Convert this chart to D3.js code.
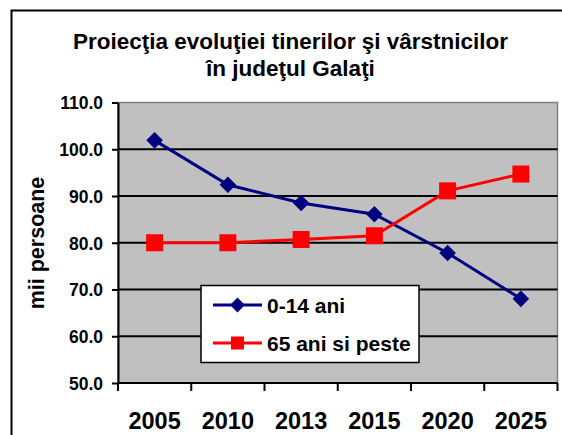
<!DOCTYPE html>
<html>
<head>
<meta charset="utf-8">
<script src="https://cdn.jsdelivr.net/npm/d3@7"></script>
<style>
    body { margin: 0; background: #fff; }
    svg { display: block; font-family: Arial, "Liberation Sans", sans-serif; font-weight: bold; }
</style>
</head>
<body>
<script>
// data
const years = ["2005", "2010", "2013", "2015", "2020", "2025"];
const tineri = [101.9, 92.4, 88.5, 86.1, 77.8, 68.0];
const varstnici = [80.0, 80.0, 80.7, 81.5, 91.1, 94.7];
const yTicks = [50, 60, 70, 80, 90, 100, 110];
const seriesNames = ["0-14 ani", "65 ani si peste"];

function init() {
    var w = 562;
    var h = 435;

    var svg = d3.select("body")
        .append("svg")
        .attr("width", w)
        .attr("height", h);

    // outer chart frame
    svg.append("rect")
        .attr("x", 11.5)
        .attr("y", 10.5)
        .attr("width", 580)
        .attr("height", 460)
        .attr("fill", "none")
        .attr("stroke", "#000")
        .attr("stroke-width", 2);

    var xScale = d3.scaleBand()
        .domain(years)
        .range([118, 557.5])
        .padding(0);

    var yScale = d3.scaleLinear()
        .domain([50, 110])
        .range([383, 102.5]);

    // plot area
    svg.append("rect")
        .attr("x", 118)
        .attr("y", yScale(110))
        .attr("width", 557.5 - 118)
        .attr("height", yScale(50) - yScale(110))
        .attr("fill", "#c0c0c0")
        .attr("stroke", "#808080")
        .attr("stroke-width", 1.5);

    // gridlines
    svg.selectAll(".grid")
        .data(yTicks.filter(function(d) { return d > 50 && d < 110; }))
        .enter()
        .append("line")
        .attr("class", "grid")
        .attr("x1", 118)
        .attr("x2", 557.5)
        .attr("y1", function(d) { return yScale(d); })
        .attr("y2", function(d) { return yScale(d); })
        .attr("stroke", "#000")
        .attr("stroke-width", 1.8);

    // y axis
    var yAxis = d3.axisLeft(yScale)
        .tickValues(yTicks)
        .tickFormat(d3.format(".1f"))
        .tickSizeInner(6)
        .tickSizeOuter(0)
        .tickPadding(9);

    var gy = svg.append("g")
        .attr("transform", "translate(118,0)")
        .call(yAxis);
    gy.select(".domain").attr("stroke", "#000").attr("stroke-width", 2);
    gy.selectAll(".tick line").attr("stroke", "#000").attr("stroke-width", 2);
    gy.selectAll("text")
        .attr("fill", "#000")
        .style("font-size", "17.5px")
        .style("font-weight", "bold")
        .style("font-family", "Arial, 'Liberation Sans', sans-serif")
        .attr("dy", "0.36em");

    // x axis: ticks between categories
    var gx = svg.append("g")
        .attr("transform", "translate(0,383)");
    gx.append("line")
        .attr("x1", 118)
        .attr("x2", 557.5)
        .attr("stroke", "#000")
        .attr("stroke-width", 2);
    var bounds = years.map(function(d) { return xScale(d); }).concat([xScale.range()[1]]);
    gx.selectAll(".xtick")
        .data(bounds)
        .enter()
        .append("line")
        .attr("class", "xtick")
        .attr("x1", function(d) { return d; })
        .attr("x2", function(d) { return d; })
        .attr("y1", 0)
        .attr("y2", 8)
        .attr("stroke", "#000")
        .attr("stroke-width", 2);
    gx.selectAll(".xlabel")
        .data(years)
        .enter()
        .append("text")
        .attr("class", "xlabel")
        .attr("x", function(d) { return xScale(d) + xScale.bandwidth() / 2; })
        .attr("y", 46)
        .attr("text-anchor", "middle")
        .style("font-size", "23.5px")
        .text(function(d) { return d; });

    // y axis title
    svg.append("text")
        .attr("transform", "translate(43.5,243) rotate(-90)")
        .attr("text-anchor", "middle")
        .style("font-size", "21.5px")
        .text("mii persoane");

    // title
    svg.append("text")
        .attr("x", 290.5)
        .attr("y", 49)
        .attr("text-anchor", "middle")
        .style("font-size", "22.5px")
        .text("Proiecţia evoluţiei tinerilor şi vârstnicilor");
    svg.append("text")
        .attr("x", 290.5)
        .attr("y", 76)
        .attr("text-anchor", "middle")
        .style("font-size", "22.5px")
        .text("în judeţul Galaţi");

    var cx = function(d, i) { return xScale(years[i]) + xScale.bandwidth() / 2; };
    var line = d3.line()
        .x(cx)
        .y(function(d) { return yScale(d); });

    var diamond = d3.symbol().type(d3.symbolDiamond2).size(175);

    // series 1: 0-14 ani
    svg.append("path")
        .datum(tineri)
        .attr("d", line)
        .attr("fill", "none")
        .attr("stroke", "#000080")
        .attr("stroke-width", 3);
    svg.selectAll(".dia")
        .data(tineri)
        .enter()
        .append("path")
        .attr("class", "dia")
        .attr("d", diamond)
        .attr("transform", function(d, i) { return "translate(" + cx(d, i) + "," + yScale(d) + ")"; })
        .attr("fill", "#000080");

    // series 2: 65 ani si peste
    svg.append("path")
        .datum(varstnici)
        .attr("d", line)
        .attr("fill", "none")
        .attr("stroke", "#ff0000")
        .attr("stroke-width", 3);
    svg.selectAll(".sq")
        .data(varstnici)
        .enter()
        .append("rect")
        .attr("class", "sq")
        .attr("x", function(d, i) { return cx(d, i) - 8.5; })
        .attr("y", function(d) { return yScale(d) - 8.5; })
        .attr("width", 17)
        .attr("height", 17)
        .attr("fill", "#ff0000");

    // legend
    var lg = svg.append("g");
    lg.append("rect")
        .attr("x", 201)
        .attr("y", 285.5)
        .attr("width", 218)
        .attr("height", 77)
        .attr("fill", "#fff")
        .attr("stroke", "#000")
        .attr("stroke-width", 1.5);
    var colors = ["#000080", "#ff0000"];
    var items = lg.selectAll(".item")
        .data(seriesNames)
        .enter()
        .append("g")
        .attr("class", "item")
        .attr("transform", function(d, i) { return "translate(0," + (305 + i * 38) + ")"; });
    items.append("line")
        .attr("x1", 213)
        .attr("x2", 262)
        .attr("stroke", function(d, i) { return colors[i]; })
        .attr("stroke-width", 3);
    items.filter(function(d, i) { return i === 0; })
        .append("path")
        .attr("d", d3.symbol().type(d3.symbolDiamond2).size(140))
        .attr("transform", "translate(237.5,0)")
        .attr("fill", colors[0]);
    items.filter(function(d, i) { return i === 1; })
        .append("rect")
        .attr("x", 231)
        .attr("y", -6.5)
        .attr("width", 13)
        .attr("height", 13)
        .attr("fill", colors[1]);
    items.append("text")
        .attr("x", 267)
        .attr("y", 8)
        .style("font-size", "21px")
        .text(function(d) { return d; });
}
window.onload = init;
</script>
</body>
</html>
